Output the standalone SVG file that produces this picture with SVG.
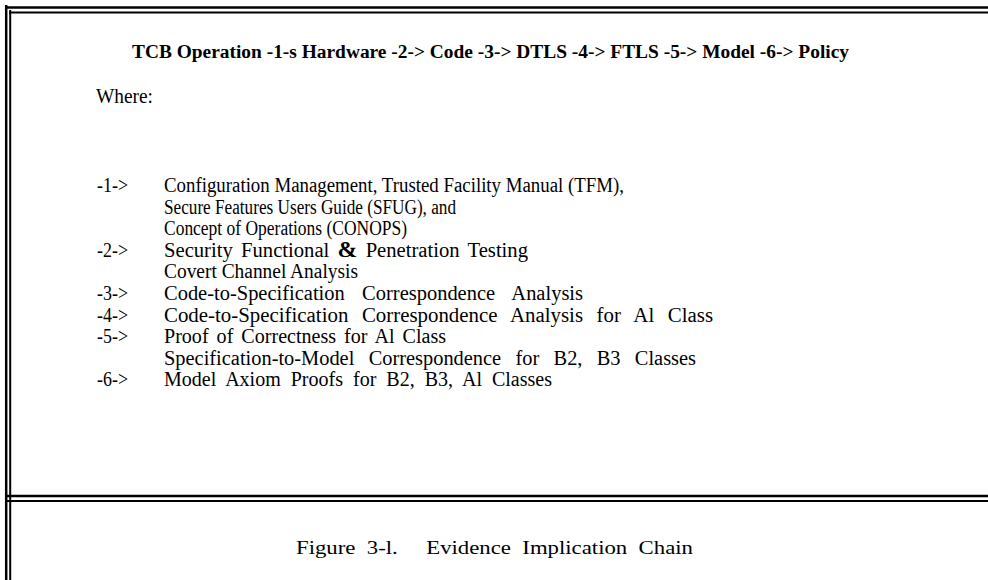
<svg xmlns="http://www.w3.org/2000/svg" width="988" height="580" viewBox="0 0 988 580">
<style>
.b{stroke:#000;fill:none}
.t{font-family:"Liberation Serif","Times New Roman",serif;fill:#000}
.m{font-size:20px}
</style>
<rect width="988" height="580" fill="#fff"/>
<g id="frame">
<line class="b" x1="6.2" y1="5" x2="6.2" y2="580" stroke-width="2.5"/>
<line class="b" x1="10.2" y1="10" x2="10.2" y2="580" stroke-width="2"/>
<line class="b" x1="5" y1="7.5" x2="988" y2="7.5" stroke-width="2.5"/>
<line class="b" x1="9" y1="12.5" x2="988" y2="12.5" stroke-width="2"/>
<line class="b" x1="7" y1="496" x2="988" y2="496" stroke-width="2.5"/>
<line class="b" x1="7" y1="501" x2="988" y2="501" stroke-width="2"/>
</g>
<g id="title">
<text class="t" x="132" y="57.5" font-size="18" font-weight="bold" textLength="717" lengthAdjust="spacingAndGlyphs">TCB Operation -1-s Hardware -2-&gt; Code -3-&gt; DTLS -4-&gt; FTLS -5-&gt; Model -6-&gt; Policy</text>
</g>
<g id="legend">
<text class="t m" x="96" y="103" textLength="57" lengthAdjust="spacingAndGlyphs">Where:</text>
<text class="t m" x="97" y="192" textLength="31" lengthAdjust="spacingAndGlyphs">-1-&gt;</text>
<text class="t m" x="164" y="192" textLength="460" lengthAdjust="spacingAndGlyphs">Configuration Management, Trusted Facility Manual (TFM),</text>
<text class="t m" x="164" y="213.6" textLength="292" lengthAdjust="spacingAndGlyphs">Secure Features Users Guide (SFUG), and</text>
<text class="t m" x="164" y="235.2" textLength="243" lengthAdjust="spacingAndGlyphs">Concept of Operations (CONOPS)</text>
<text class="t m" x="97" y="256.8" textLength="31" lengthAdjust="spacingAndGlyphs">-2-&gt;</text>
<text class="t m" x="164" y="256.8" word-spacing="3" textLength="364" lengthAdjust="spacingAndGlyphs">Security Functional <tspan font-weight="bold" font-size="23">&amp;</tspan> Penetration Testing</text>
<text class="t m" x="164" y="278.4" textLength="194" lengthAdjust="spacingAndGlyphs">Covert Channel Analysis</text>
<text class="t m" x="97" y="300" textLength="31" lengthAdjust="spacingAndGlyphs">-3-&gt;</text>
<text class="t m" x="164" y="300" word-spacing="12" textLength="419" lengthAdjust="spacingAndGlyphs">Code-to-Specification Correspondence Analysis</text>
<text class="t m" x="97" y="321.6" textLength="31" lengthAdjust="spacingAndGlyphs">-4-&gt;</text>
<text class="t m" x="164" y="321.6" word-spacing="8" textLength="549" lengthAdjust="spacingAndGlyphs">Code-to-Specification Correspondence Analysis for Al Class</text>
<text class="t m" x="97" y="343.2" textLength="31" lengthAdjust="spacingAndGlyphs">-5-&gt;</text>
<text class="t m" x="164" y="343.2" word-spacing="3" textLength="282" lengthAdjust="spacingAndGlyphs">Proof of Correctness for Al Class</text>
<text class="t m" x="164" y="364.8" word-spacing="9" textLength="532" lengthAdjust="spacingAndGlyphs">Specification-to-Model Correspondence for B2, B3 Classes</text>
<text class="t m" x="97" y="386.4" textLength="31" lengthAdjust="spacingAndGlyphs">-6-&gt;</text>
<text class="t m" x="164" y="386.4" word-spacing="5" textLength="388" lengthAdjust="spacingAndGlyphs">Model Axiom Proofs for B2, B3, Al Classes</text>
</g>
<g id="caption">
<text class="t" x="296" y="554" font-size="19" textLength="397" lengthAdjust="spacingAndGlyphs" xml:space="preserve">Figure  3-l.     Evidence  Implication  Chain</text>
</g>
</svg>
